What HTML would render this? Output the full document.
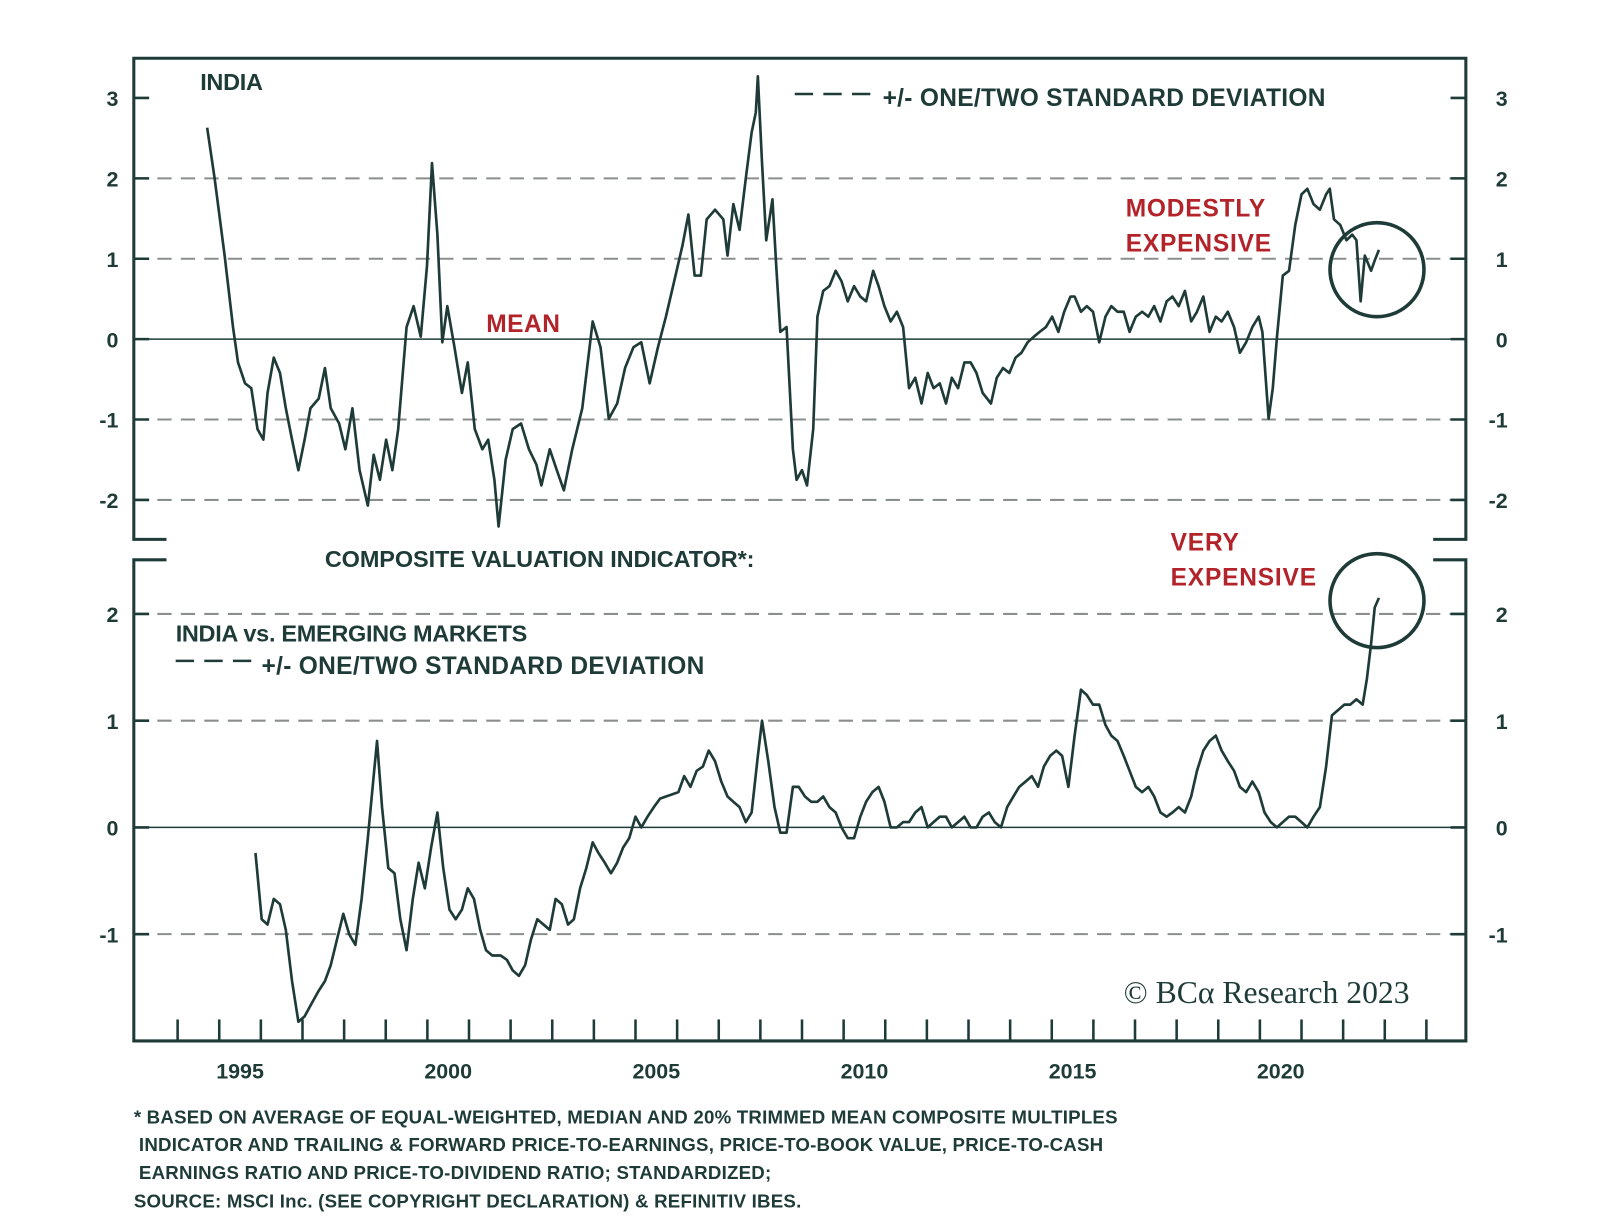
<!DOCTYPE html>
<html><head><meta charset="utf-8"><style>
html,body{margin:0;padding:0;background:#fff;}
svg{display:block;font-family:"Liberation Sans",sans-serif;}
</style></head><body>
<svg id="chart" width="1600" height="1232" viewBox="0 0 1600 1232">
<g transform="scale(1.0215)">
<g id="frame"></g>
<g id="grid"></g>
<g id="series"></g>
<g id="labels" font-weight="bold" fill="#1e3b38">
<text x="196" y="88" font-size="23" letter-spacing="-0.3">INDIA</text>
<line x1="778" y1="92" x2="852" y2="92" stroke="#1e3b38" stroke-width="2.5" stroke-dasharray="18,10"/>
<text x="864" y="104" font-size="24" letter-spacing="0.3">+/- ONE/TWO STANDARD DEVIATION</text>
<text x="476" y="325" font-size="24" fill="#b3232a" letter-spacing="0.5">MEAN</text>
<text x="1102" y="212" font-size="24" fill="#b3232a" letter-spacing="0.8">MODESTLY</text>
<text x="1102" y="246" font-size="24" fill="#b3232a" letter-spacing="0.8">EXPENSIVE</text>
<text x="318" y="555" font-size="23" letter-spacing="-0.1">COMPOSITE VALUATION INDICATOR*:</text>
<text x="1146" y="539" font-size="24" fill="#b3232a" letter-spacing="0.8">VERY</text>
<text x="1146" y="573" font-size="24" fill="#b3232a" letter-spacing="0.8">EXPENSIVE</text>
<text x="172" y="628" font-size="23" letter-spacing="-0.3">INDIA vs. EMERGING MARKETS</text>
<line x1="172" y1="647" x2="246" y2="647" stroke="#1e3b38" stroke-width="2.5" stroke-dasharray="18,10"/>
<text x="256" y="660" font-size="24" letter-spacing="0.3">+/- ONE/TWO STANDARD DEVIATION</text>
<text x="1100" y="982" font-size="31" font-weight="normal" font-family="Liberation Serif, serif">© BCα Research 2023</text>
<g font-size="18.3" letter-spacing="0.2">
<text x="131" y="1100">* BASED ON AVERAGE OF EQUAL-WEIGHTED, MEDIAN AND 20% TRIMMED MEAN COMPOSITE MULTIPLES</text>
<text x="136" y="1127">INDICATOR AND TRAILING &amp; FORWARD PRICE-TO-EARNINGS, PRICE-TO-BOOK VALUE, PRICE-TO-CASH</text>
<text x="136" y="1154">EARNINGS RATIO AND PRICE-TO-DIVIDEND RATIO; STANDARDIZED;</text>
<text x="131" y="1182">SOURCE: MSCI Inc. (SEE COPYRIGHT DECLARATION) &amp; REFINITIV IBES.</text>
</g>
</g>
</g>
</svg>
<script>
const topYears=[1994.21,1994.39,1994.63,1994.83,1994.95,1995.12,1995.27,1995.42,1995.56,1995.66,1995.81,1995.96,1996.10,1996.25,1996.40,1996.55,1996.69,1996.89,1997.04,1997.18,1997.38,1997.53,1997.70,1997.87,1998.07,1998.21,1998.36,1998.51,1998.66,1998.80,1999.00,1999.17,1999.34,1999.49,1999.61,1999.74,1999.86,1999.98,2000.15,2000.33,2000.47,2000.64,2000.82,2000.96,2001.11,2001.21,2001.38,2001.55,2001.75,2001.94,2002.12,2002.24,2002.44,2002.61,2002.78,2002.98,2003.22,2003.47,2003.66,2003.86,2004.06,2004.25,2004.45,2004.64,2004.84,2005.04,2005.23,2005.43,2005.63,2005.77,2005.92,2006.07,2006.21,2006.41,2006.61,2006.71,2006.85,2007.00,2007.15,2007.29,2007.39,2007.44,2007.54,2007.64,2007.79,2007.88,2007.98,2008.13,2008.28,2008.37,2008.50,2008.62,2008.77,2008.87,2009.01,2009.16,2009.31,2009.45,2009.60,2009.75,2009.90,2010.04,2010.21,2010.34,2010.48,2010.63,2010.78,2010.93,2011.07,2011.22,2011.37,2011.52,2011.66,2011.81,2011.96,2012.10,2012.25,2012.40,2012.55,2012.69,2012.84,2013.04,2013.18,2013.33,2013.48,2013.63,2013.77,2013.92,2014.07,2014.21,2014.36,2014.51,2014.66,2014.80,2014.95,2015.05,2015.20,2015.34,2015.49,2015.64,2015.79,2015.93,2016.08,2016.23,2016.37,2016.52,2016.67,2016.82,2016.96,2017.11,2017.26,2017.40,2017.55,2017.70,2017.85,2017.99,2018.14,2018.29,2018.44,2018.58,2018.73,2018.88,2019.02,2019.17,2019.32,2019.47,2019.56,2019.71,2019.81,2019.91,2020.05,2020.20,2020.35,2020.50,2020.64,2020.79,2020.94,2021.09,2021.18,2021.28,2021.43,2021.58,2021.72,2021.82,2021.92,2022.02,2022.17,2022.26,2022.36];
const topValues=[2.63,2.00,1.04,0.15,-0.29,-0.55,-0.61,-1.12,-1.25,-0.67,-0.23,-0.42,-0.86,-1.25,-1.63,-1.25,-0.86,-0.74,-0.36,-0.86,-1.05,-1.37,-0.86,-1.63,-2.07,-1.44,-1.75,-1.25,-1.63,-1.12,0.15,0.41,0.03,0.91,2.19,1.30,-0.04,0.41,-0.10,-0.67,-0.29,-1.12,-1.37,-1.25,-1.75,-2.33,-1.50,-1.12,-1.05,-1.37,-1.56,-1.82,-1.37,-1.63,-1.88,-1.37,-0.86,0.22,-0.10,-0.99,-0.80,-0.36,-0.10,-0.04,-0.55,-0.10,0.28,0.72,1.17,1.55,0.79,0.79,1.49,1.61,1.49,1.04,1.68,1.36,2.00,2.57,2.82,3.27,2.19,1.23,1.74,0.91,0.09,0.15,-1.37,-1.75,-1.63,-1.82,-1.12,0.28,0.60,0.66,0.85,0.72,0.47,0.66,0.53,0.47,0.85,0.66,0.41,0.22,0.34,0.15,-0.61,-0.48,-0.80,-0.42,-0.61,-0.55,-0.80,-0.48,-0.61,-0.29,-0.29,-0.42,-0.67,-0.80,-0.48,-0.36,-0.42,-0.23,-0.17,-0.04,0.03,0.09,0.15,0.28,0.09,0.34,0.53,0.53,0.34,0.41,0.34,-0.04,0.28,0.41,0.34,0.34,0.09,0.28,0.34,0.28,0.41,0.22,0.47,0.53,0.41,0.60,0.22,0.34,0.53,0.09,0.28,0.22,0.34,0.15,-0.17,-0.04,0.15,0.28,0.09,-0.99,-0.61,0.03,0.79,0.85,1.42,1.80,1.87,1.68,1.61,1.80,1.87,1.49,1.42,1.23,1.30,1.23,0.47,1.04,0.85,0.98,1.11];
const botYears=[1995.37,1995.52,1995.66,1995.81,1995.96,1996.10,1996.25,1996.40,1996.55,1996.69,1996.89,1997.04,1997.18,1997.33,1997.48,1997.62,1997.77,1997.92,1998.07,1998.21,1998.29,1998.41,1998.56,1998.71,1998.85,1999.00,1999.15,1999.29,1999.44,1999.59,1999.74,1999.88,2000.03,2000.18,2000.33,2000.47,2000.62,2000.77,2000.91,2001.06,2001.26,2001.41,2001.55,2001.70,2001.85,2001.99,2002.14,2002.29,2002.44,2002.58,2002.73,2002.88,2003.02,2003.17,2003.32,2003.47,2003.61,2003.76,2003.91,2004.06,2004.20,2004.35,2004.50,2004.64,2004.79,2004.94,2005.09,2005.23,2005.38,2005.53,2005.67,2005.82,2005.97,2006.12,2006.26,2006.41,2006.56,2006.71,2006.85,2007.00,2007.15,2007.29,2007.44,2007.54,2007.69,2007.84,2007.98,2008.13,2008.28,2008.42,2008.57,2008.72,2008.87,2009.01,2009.16,2009.31,2009.45,2009.60,2009.75,2009.90,2010.04,2010.19,2010.34,2010.48,2010.63,2010.78,2010.93,2011.07,2011.22,2011.37,2011.52,2011.66,2011.81,2011.96,2012.10,2012.25,2012.40,2012.55,2012.69,2012.84,2012.99,2013.13,2013.28,2013.43,2013.58,2013.72,2013.87,2014.02,2014.17,2014.31,2014.46,2014.61,2014.75,2014.90,2015.05,2015.20,2015.34,2015.49,2015.64,2015.79,2015.93,2016.08,2016.23,2016.37,2016.52,2016.67,2016.82,2016.96,2017.11,2017.26,2017.40,2017.55,2017.70,2017.85,2017.99,2018.14,2018.29,2018.44,2018.58,2018.73,2018.88,2019.02,2019.17,2019.32,2019.47,2019.61,2019.76,2019.91,2020.05,2020.20,2020.35,2020.50,2020.64,2020.79,2020.94,2021.09,2021.23,2021.38,2021.53,2021.67,2021.82,2021.97,2022.07,2022.17,2022.26,2022.36];
const botValues=[-0.24,-0.86,-0.91,-0.67,-0.72,-0.96,-1.44,-1.82,-1.77,-1.67,-1.53,-1.44,-1.29,-1.05,-0.81,-1.00,-1.10,-0.67,-0.10,0.48,0.81,0.19,-0.38,-0.43,-0.86,-1.15,-0.67,-0.33,-0.57,-0.19,0.14,-0.38,-0.77,-0.86,-0.77,-0.57,-0.67,-0.96,-1.15,-1.20,-1.20,-1.24,-1.34,-1.39,-1.29,-1.05,-0.86,-0.91,-0.96,-0.67,-0.72,-0.91,-0.86,-0.57,-0.38,-0.14,-0.24,-0.33,-0.43,-0.33,-0.19,-0.10,0.10,0.00,0.10,0.19,0.27,0.29,0.31,0.33,0.48,0.38,0.53,0.57,0.72,0.62,0.43,0.29,0.24,0.19,0.05,0.14,0.67,1.00,0.62,0.19,-0.05,-0.05,0.38,0.38,0.29,0.24,0.24,0.29,0.19,0.14,0.00,-0.10,-0.10,0.10,0.24,0.33,0.38,0.24,0.00,0.00,0.05,0.05,0.14,0.19,0.00,0.05,0.10,0.10,0.00,0.05,0.10,0.00,0.00,0.10,0.14,0.05,0.00,0.19,0.29,0.38,0.43,0.48,0.38,0.57,0.67,0.72,0.67,0.38,0.86,1.29,1.24,1.15,1.15,0.96,0.86,0.81,0.67,0.53,0.38,0.33,0.38,0.29,0.14,0.10,0.14,0.19,0.14,0.29,0.53,0.72,0.81,0.86,0.72,0.62,0.53,0.38,0.33,0.43,0.33,0.14,0.05,0.00,0.05,0.10,0.10,0.05,0.00,0.10,0.19,0.57,1.05,1.10,1.15,1.15,1.20,1.15,1.39,1.72,2.06,2.15];
const topTicks=[3,2,1,0,-1,-2];
const botTicks=[2,1,0,-1];
const xLabels=[1995,2000,2005,2010,2015,2020];

const NS="http://www.w3.org/2000/svg";
const C="#1e3b38";
const L=131,R=1435;
const x=y=>235+(y-1995)*40.75;
const yTop=v=>332-v*78.7;
const yBot=v=>810-v*104.5;
function mk(tag,attrs,parent){const e=document.createElementNS(NS,tag);for(const k in attrs)e.setAttribute(k,attrs[k]);parent.appendChild(e);return e;}
const frame=document.getElementById('frame'),grid=document.getElementById('grid'),ser=document.getElementById('series'),lab=document.getElementById('labels');
let f=mk('path',{d:`M163 528 H${L} V57 H${R} V528 H1403 M163 548 H${L} V1019 H${R} V548 H1403`,fill:'none',stroke:C,'stroke-width':3},frame);


function panel(ticks,yf,name){
  ticks.forEach(t=>{
    const yy=yf(t);
    if(t===0){
      const g=mk('line',{x1:L,x2:R,y1:yy,y2:yy,stroke:C,'stroke-width':1.5},grid);
      
      
    } else if(Math.abs(t)<=2){
      const g=mk('line',{x1:L,x2:R,y1:yy,y2:yy,stroke:'#8a8f8c','stroke-width':2,'stroke-dasharray':'14,9'},grid);
      
      
    }
    const tl=mk('path',{d:`M${L} ${yy} h15 M${R} ${yy} h-15`,stroke:C,'stroke-width':2.5},grid);
    
    
    const a=mk('text',{x:116,y:yy+8,'font-size':21,'text-anchor':'end'},lab);a.textContent=t;
    
    
    const b=mk('text',{x:1476,y:yy+8,'font-size':21,'text-anchor':'end'},lab);b.textContent=t;
    
    
  });
}
panel(topTicks,yTop,'top');
panel(botTicks,yBot,'bottom');
for(let yr=1993;yr<=2023;yr++){
  const t=mk('line',{x1:x(yr+0.5),x2:x(yr+0.5),y1:1019,y2:998,stroke:C,'stroke-width':2.5},grid);
  
  
}
xLabels.forEach(yr=>{
  const t=mk('text',{x:x(yr),y:1056,'font-size':21,'text-anchor':'middle'},lab);t.textContent=yr;
  
  
});
function line(xs,vs,yf,name){
  const d=xs.map((a,i)=>(i?'L':'M')+x(a).toFixed(1)+' '+yf(vs[i]).toFixed(1)).join(' ');
  const p=mk('path',{d,fill:'none',stroke:C,'stroke-width':2.6,'stroke-linejoin':'round'},ser);
  
  
}
line(topYears,topValues,yTop,'india-valuation-line');
line(botYears,botValues,yBot,'india-vs-em-line');
const c1=mk('circle',{cx:1348,cy:264,r:46,fill:'none',stroke:C,'stroke-width':3.5},ser);


const c2=mk('circle',{cx:1348,cy:588,r:46,fill:'none',stroke:C,'stroke-width':3.5},ser);


</script>
</body></html>
